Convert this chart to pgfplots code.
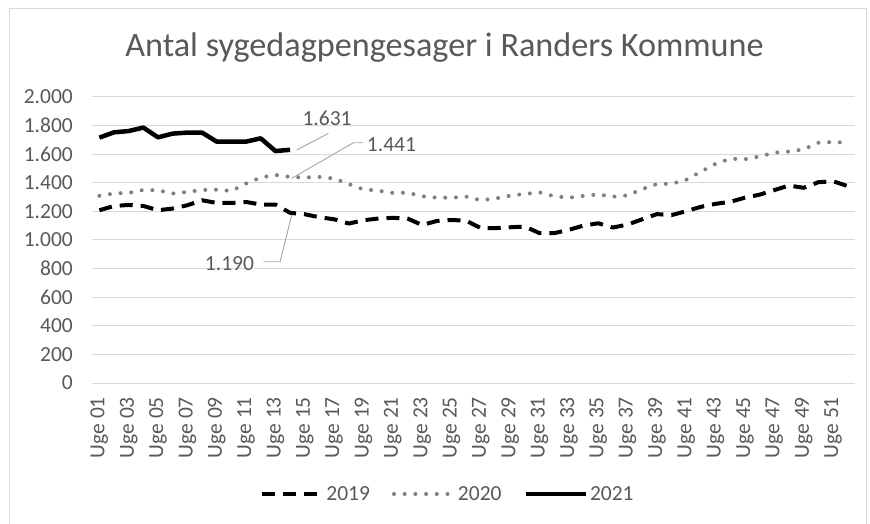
\documentclass[border=0pt]{standalone}
\usepackage{pgfplots}
\pgfplotsset{compat=1.18}
\usepackage{fontspec}
\setmainfont{Carlito}
\definecolor{txt}{HTML}{595959}
\definecolor{gridc}{HTML}{D9D9D9}
\definecolor{dotc}{HTML}{808080}
\definecolor{lead}{HTML}{A6A6A6}
\pgfplotstableread{
w v
1 1208
2 1238
3 1245
4 1238
5 1208
6 1220
7 1243
8 1278
9 1259
10 1259
11 1266
12 1248
13 1248
14 1190
15 1180
16 1159
17 1145
18 1115
19 1138
20 1150
21 1155
22 1150
23 1105
24 1133
25 1140
26 1135
27 1083
28 1083
29 1089
30 1094
31 1048
32 1048
33 1071
34 1101
35 1117
36 1087
37 1108
38 1145
39 1181
40 1174
41 1202
42 1232
43 1253
44 1267
45 1296
46 1317
47 1349
48 1381
49 1365
50 1404
51 1411
52 1377
}\tabA
\pgfplotstableread{
w v
1 1309
2 1325
3 1330
4 1350
5 1348
6 1325
7 1336
8 1350
9 1352
10 1343
11 1395
12 1437
13 1455
14 1441
15 1437
16 1441
17 1430
18 1391
19 1354
20 1345
21 1329
22 1331
23 1306
24 1296
25 1296
26 1303
27 1278
28 1290
29 1310
30 1322
31 1333
32 1306
33 1296
34 1308
35 1319
36 1303
37 1312
38 1356
39 1391
40 1393
41 1421
42 1478
43 1533
44 1568
45 1565
46 1584
47 1611
48 1618
49 1634
50 1680
51 1685
52 1680
}\tabB
\pgfplotstableread{
w v
1 1716
2 1753
3 1762
4 1786
5 1718
6 1744
7 1751
8 1751
9 1688
10 1688
11 1688
12 1711
13 1622
14 1631
}\tabC
\begin{document}
\begin{tikzpicture}
\path[use as bounding box] (0,0) rectangle (870bp,524bp);
\fill[white] (0,0) rectangle (870bp,524bp);
\draw[gridc, line width=1bp] (9bp,0) -- (9bp,515bp) -- (866bp,515bp) -- (866bp,0);
\node[anchor=base, text=txt, inner sep=0pt, font=\fontsize{34.2bp}{41bp}\selectfont] at (444.5bp,467bp) {Antal sygedagpengesager i Randers Kommune};
\begin{axis}[
  at={(92bp,141bp)}, anchor=south west,
  scale only axis, width=763bp, height=286bp,
  xmin=0.5, xmax=52.5, ymin=0, ymax=2000,
  axis line style={draw=none},
  major tick length=0pt,
  ymajorgrids, grid style={gridc, line width=1bp},
  ytick={0,200,...,2000},
  /pgf/number format/1000 sep={.},
  /pgf/number format/assume math mode=true,
  yticklabel style={text=txt, font=\fontsize{21.5bp}{25bp}\selectfont, inner sep=0pt},
  yticklabel shift=19bp,
  xtick={1,3,...,51},
  xticklabels={Uge 01,Uge 03,Uge 05,Uge 07,Uge 09,Uge 11,Uge 13,Uge 15,Uge 17,Uge 19,Uge 21,Uge 23,Uge 25,Uge 27,Uge 29,Uge 31,Uge 33,Uge 35,Uge 37,Uge 39,Uge 41,Uge 43,Uge 45,Uge 47,Uge 49,Uge 51},
  xticklabel style={rotate=90, anchor=east, text=txt, font=\fontsize{21.5bp}{25bp}\selectfont, inner sep=0pt},
  xticklabel shift=14bp,
  legend columns=3,
  legend style={at={(0.4666,-0.388)}, anchor=center, draw=none, fill=none,
    text=txt, font=\fontsize{21.5bp}{25bp}\selectfont,
    /tikz/every even column/.append style={column sep=20bp}},
  legend image code/.code={\draw[#1] (0bp,0bp) -- (60bp,0bp);},
]
\addplot[black, line width=4bp, line join=round, dash pattern=on 13bp off 8bp] table[x=w,y=v] {\tabA};
\addlegendentry{2019}
\addplot[dotc, line width=4bp, line cap=round, line join=round, dash pattern=on 0bp off 10.7bp] table[x=w,y=v] {\tabB};
\addlegendentry{2020}
\addplot[black, line width=4.5bp, line join=round] table[x=w,y=v] {\tabC};
\addlegendentry{2021}
\draw[lead, line width=0.9bp] (axis cs:14.45,1629) -- (axis cs:16.61,1746);
\draw[lead, line width=0.9bp] (axis cs:14.11,1431) -- (axis cs:18.31,1680) -- (axis cs:19.0,1680);
\draw[lead, line width=0.9bp] (axis cs:14.11,1175) -- (axis cs:13.32,848) -- (axis cs:12.18,848);
\node[text=txt, font=\fontsize{21.5bp}{25bp}\selectfont, inner sep=0pt] at (axis cs:16.52,1853) {1.631};
\node[text=txt, font=\fontsize{21.5bp}{25bp}\selectfont, inner sep=0pt] at (axis cs:20.91,1666) {1.441};
\node[text=txt, font=\fontsize{21.5bp}{25bp}\selectfont, inner sep=0pt] at (axis cs:9.87,832) {1.190};
\end{axis}
\end{tikzpicture}
\end{document}
